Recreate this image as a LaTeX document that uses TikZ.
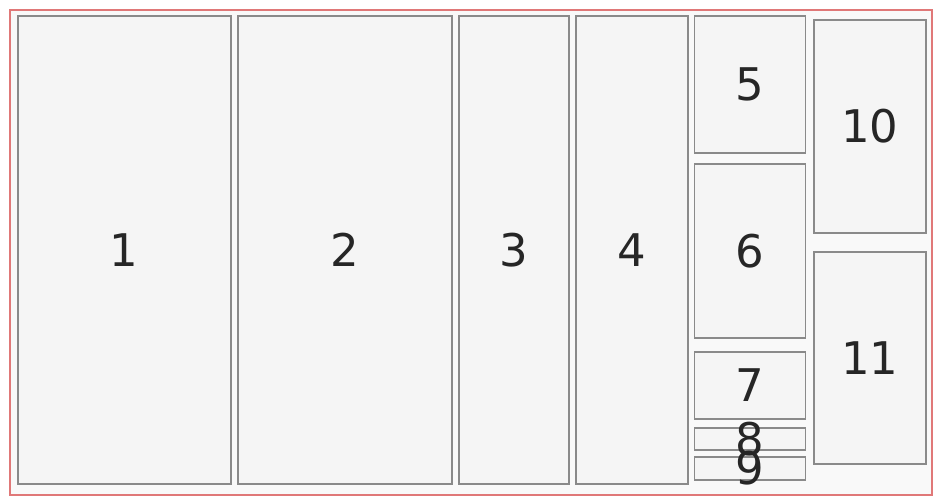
\documentclass[tikz,border=0pt]{standalone}
\usepackage{fontspec}
\setmainfont{DejaVu Sans}
\usetikzlibrary{positioning}
\definecolor{edge}{HTML}{8A8A8A}
\definecolor{soft}{HTML}{F5F5F5}
\definecolor{frame}{HTML}{E07878}

\begin{document}
\begin{tikzpicture}[
  x=1pt,y=-1pt,
  cell/.style={draw=edge,fill=soft,line width=1.6pt,inner sep=0pt,
    label={[font=\fontsize{45}{54}\selectfont,text=black!85,inner sep=0pt]center:#1}},
  border/.style={draw=frame,fill=soft!60,line width=1.6pt}
]
  \useasboundingbox (0,0) rectangle (934,498);
  \draw[border] (10,10) rectangle (932,495);

  % wide columns
  \node[cell=1,anchor=north west,minimum width=213pt,minimum height=468pt] (c1) at (17,15) {};
  \node[cell=2,right=5.4pt of c1,minimum width=214pt,minimum height=468pt] (c2) {};
  \node[cell=3,right=5.4pt of c2,minimum width=110pt,minimum height=468pt] (c3) {};
  \node[cell=4,right=5.4pt of c3,minimum width=112pt,minimum height=468pt] (c4) {};

  % small stack
  \node[cell=5,right=4.9pt of c4.north east,anchor=north west,minimum width=111pt,minimum height=137pt] (c5) {};
  \node[cell=6,below=9.4pt of c5,minimum width=111pt,minimum height=174pt] (c6) {};
  \node[cell=7,below=12.4pt of c6,minimum width=111pt,minimum height=67pt] (c7) {};
  \node[cell=8,below=7.4pt of c7,minimum width=111pt,minimum height=22pt] (c8) {};
  \node[cell=9,below=5.4pt of c8,minimum width=111pt,minimum height=23pt] (c9) {};

  % right column
  \node[cell=10,anchor=north west,minimum width=112pt,minimum height=213pt] (c10) at (813,19) {};
  \node[cell=11,below=17.4pt of c10,minimum width=112pt,minimum height=212pt] (c11) {};
\end{tikzpicture}
\end{document}
